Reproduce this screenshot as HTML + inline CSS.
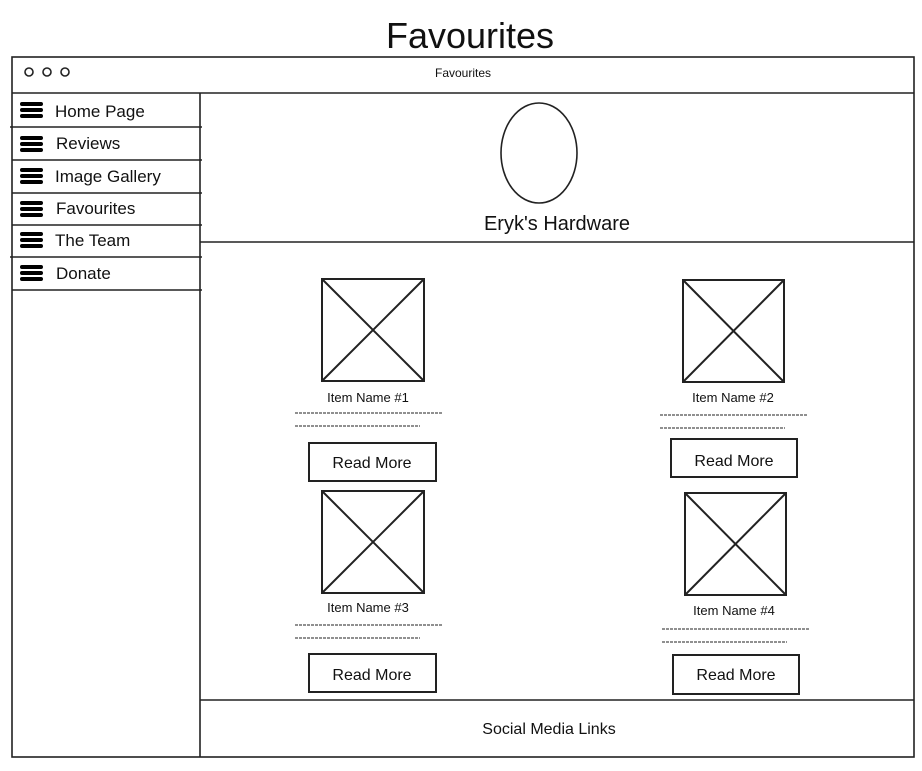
<!DOCTYPE html>
<html><head><meta charset="utf-8"><style>
body{margin:0;background:#fff;width:922px;height:766px;overflow:hidden}
svg text{font-family:"Liberation Sans",sans-serif;fill:#111}
</style></head><body>
<svg width="922" height="766" viewBox="0 0 922 766" xmlns="http://www.w3.org/2000/svg">
<g fill="none" stroke="#222" stroke-width="1.6">
<rect x="12" y="57" width="902" height="700"/>
<line x1="12" y1="93" x2="914" y2="93"/>
<line x1="200" y1="93" x2="200" y2="757"/>
<line x1="10" y1="127" x2="202" y2="127"/>
<line x1="12" y1="160" x2="202" y2="160"/>
<line x1="12" y1="193" x2="202" y2="193"/>
<line x1="12" y1="225" x2="202" y2="225"/>
<line x1="10" y1="257" x2="202" y2="257"/>
<line x1="12" y1="290" x2="202" y2="290"/>
<line x1="200" y1="242" x2="914" y2="242"/>
<line x1="200" y1="700" x2="914" y2="700"/>
<circle cx="29" cy="72" r="4"/><circle cx="47" cy="72" r="4"/><circle cx="65" cy="72" r="4"/>
<ellipse cx="539" cy="153" rx="38" ry="50"/>
<g stroke-width="2">
<rect x="322" y="279" width="102" height="102"/><line x1="322" y1="279" x2="424" y2="381"/><line x1="424" y1="279" x2="322" y2="381"/>
<rect x="683" y="280" width="101" height="102"/><line x1="683" y1="280" x2="784" y2="382"/><line x1="784" y1="280" x2="683" y2="382"/>
<rect x="322" y="491" width="102" height="102"/><line x1="322" y1="491" x2="424" y2="593"/><line x1="424" y1="491" x2="322" y2="593"/>
<rect x="685" y="493" width="101" height="102"/><line x1="685" y1="493" x2="786" y2="595"/><line x1="786" y1="493" x2="685" y2="595"/>
<rect x="309" y="443" width="127" height="38"/>
<rect x="671" y="439" width="126" height="38"/>
<rect x="309" y="654" width="127" height="38"/>
<rect x="673" y="655" width="126" height="39"/>
</g>
<g stroke-width="1" stroke-dasharray="3 1">
<line x1="295" y1="413" x2="443" y2="413"/><line x1="295" y1="426" x2="420" y2="426"/>
<line x1="660" y1="415" x2="808" y2="415"/><line x1="660" y1="428" x2="785" y2="428"/>
<line x1="295" y1="625" x2="443" y2="625"/><line x1="295" y1="638" x2="420" y2="638"/>
<line x1="662" y1="629" x2="810" y2="629"/><line x1="662" y1="642" x2="787" y2="642"/>
</g>
</g>
<g stroke="#000" stroke-width="4" stroke-linecap="round">
<path d="M22 104h19M22 110h19M22 116h19"/>
<path d="M22 138h19M22 144h19M22 150h19"/>
<path d="M22 170h19M22 176h19M22 182h19"/>
<path d="M22 203h19M22 209h19M22 215h19"/>
<path d="M22 234h19M22 240h19M22 246h19"/>
<path d="M22 267h19M22 273h19M22 279h19"/>
</g>
<text x="470" y="48" font-size="36" text-anchor="middle">Favourites</text>
<text x="463" y="77" font-size="12" text-anchor="middle">Favourites</text>
<g font-size="17">
<text x="55" y="117">Home Page</text>
<text x="56" y="149">Reviews</text>
<text x="55" y="182">Image Gallery</text>
<text x="56" y="214">Favourites</text>
<text x="55" y="246">The Team</text>
<text x="56" y="279">Donate</text>
</g>
<text x="557" y="230" font-size="20" text-anchor="middle">Eryk's Hardware</text>
<g font-size="13" text-anchor="middle">
<text x="368" y="402">Item Name #1</text>
<text x="733" y="402">Item Name #2</text>
<text x="368" y="612">Item Name #3</text>
<text x="734" y="615">Item Name #4</text>
</g>
<g font-size="16" text-anchor="middle">
<text x="372" y="468">Read More</text>
<text x="734" y="466">Read More</text>
<text x="372" y="680">Read More</text>
<text x="736" y="680">Read More</text>
</g>
<text x="549" y="734" font-size="16" text-anchor="middle">Social Media Links</text>
</svg>
</body></html>
